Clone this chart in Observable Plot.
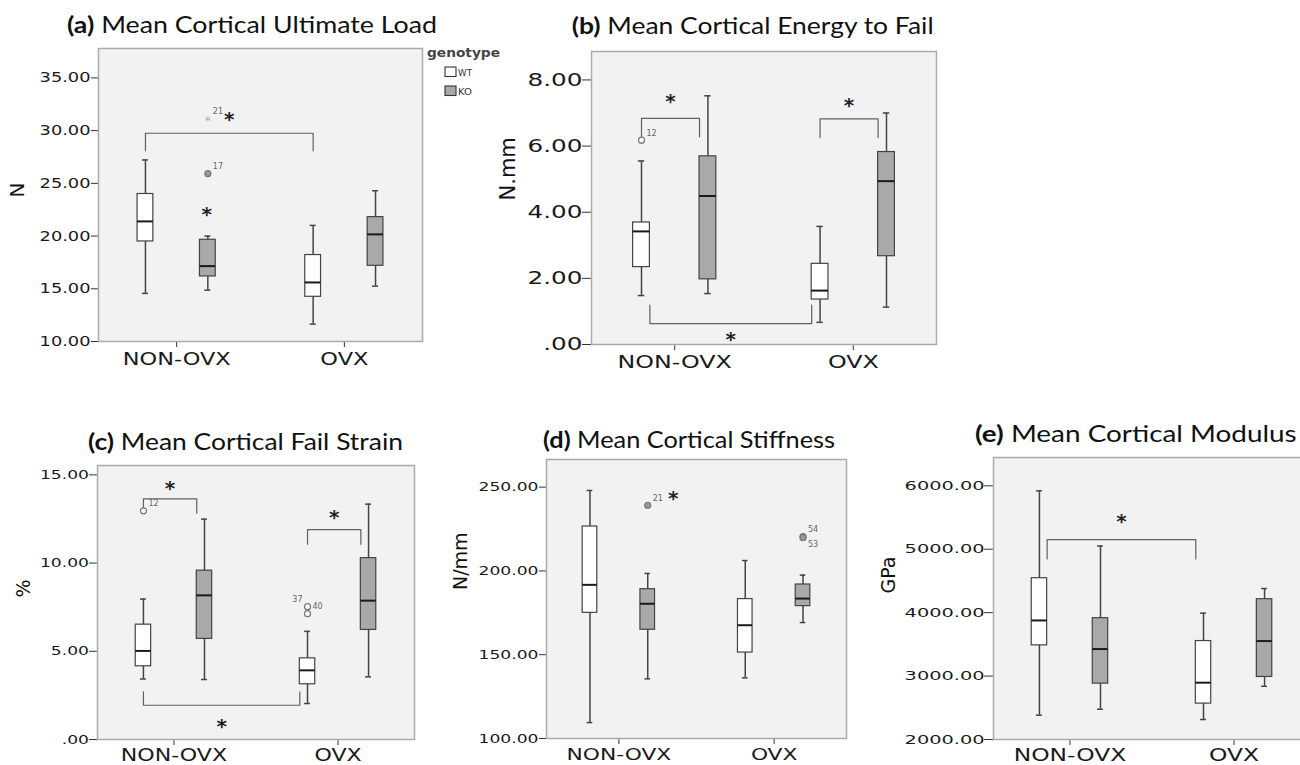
<!DOCTYPE html>
<html>
<head>
<meta charset="utf-8">
<script src="https://cdn.jsdelivr.net/npm/d3@7"></script>
<script src="https://cdn.jsdelivr.net/npm/@observablehq/plot@0.6"></script>
<style>
  html, body { margin: 0; padding: 0; background: #ffffff; }
  body { width: 1300px; height: 765px; overflow: hidden; position: relative; font-family: "DejaVu Sans", sans-serif; }
</style>
</head>
<body>
<script>
// ---------------- DATA ----------------
const groups = ["NON-OVX", "OVX"];
const genotypes = ["WT", "KO"];
// box order: NON-OVX WT, NON-OVX KO, OVX WT, OVX KO
const boxGroup = ["NON-OVX", "NON-OVX", "OVX", "OVX"];
const boxGenotype = ["WT", "KO", "WT", "KO"];

// (a) Ultimate load (N)
const loadLow    = [14.56, 14.87, 11.65, 15.25];
const loadQ1     = [19.49, 16.17, 14.24, 17.18];
const loadMedian = [21.39, 17.15, 15.60, 20.16];
const loadQ3     = [23.99, 19.65, 18.20, 21.80];
const loadHigh   = [27.22, 20.00, 21.01, 24.30];
const loadOutliers = [
  {box: 1, value: 25.92, label: "17", mark: "circle", side: "ne"},
  {box: 1, value: 31.20, label: "21", mark: "star", side: "ne"}
];
const loadBrackets = [{from: [0, "c"], to: [2, "c"], level: 29.75, tip: 28.1, star: 31.5}];
const loadStars = [{x: 0.18, y: 22.47}];
const loadTicks = [10, 15, 20, 25, 30, 35];

// (b) Energy to fail (N.mm)
const energyLow    = [1.48, 1.54, 0.67, 1.13];
const energyQ1     = [2.34, 1.97, 1.36, 2.67];
const energyMedian = [3.42, 4.49, 1.63, 4.94];
const energyQ3     = [3.69, 5.69, 2.44, 5.82];
const energyHigh   = [5.55, 7.52, 3.57, 7.00];
const energyOutliers = [{box: 0, value: 6.18, label: "12", mark: "circle", side: "ne"}];
const energyBrackets = [
  {from: [0, "c"], to: [1, "l"], level: 6.84, tip: 6.28, star: 7.49},
  {from: [2, "c"], to: [3, "l"], level: 6.82, tip: 6.26, star: 7.39},
  {from: [0, "r"], to: [2, "l"], level: 0.63, tip: 1.19, star: 0.30}
];
const energyStars = [];
const energyTicks = [0, 2, 4, 6, 8];

// (c) Fail strain (%)
const strainLow    = [3.43, 3.40, 2.04, 3.55];
const strainQ1     = [4.15, 5.70, 3.13, 6.21];
const strainMedian = [5.02, 8.17, 3.92, 7.87];
const strainQ3     = [6.51, 9.57, 4.60, 10.28];
const strainHigh   = [7.96, 12.49, 6.13, 13.34];
const strainOutliers = [
  {box: 0, value: 12.96, label: "12", mark: "circle", side: "ne"},
  {box: 2, value: 7.53, label: "37", mark: "circle", side: "nw"},
  {box: 2, value: 7.13, label: "40", mark: "circle", side: "ne"}
];
const strainBrackets = [
  {from: [0, "c"], to: [1, "l"], level: 13.64, tip: 12.83, star: 14.53},
  {from: [2, "c"], to: [3, "l"], level: 11.89, tip: 11.06, star: 12.85},
  {from: [0, "c"], to: [2, "l"], level: 1.94, tip: 2.70, star: 1.0}
];
const strainStars = [];
const strainTicks = [0, 5, 10, 15];

// (d) Stiffness (N/mm)
const stiffLow    = [109.5, 135.6, 136.2, 169.2];
const stiffQ1     = [175.0, 164.9, 151.3, 179.0];
const stiffMedian = [191.7, 180.4, 167.6, 183.5];
const stiffQ3     = [226.5, 189.1, 183.2, 191.9];
const stiffHigh   = [248.0, 198.5, 206.2, 197.5];
const stiffOutliers = [
  {box: 1, value: 239.2, label: "21", mark: "circle", side: "ne"},
  {box: 3, value: 220.5, label: "54", mark: "circle", side: "ne"},
  {box: 3, value: 219.8, label: "53", mark: "circle", side: "se"}
];
const stiffBrackets = [];
const stiffStars = [{x: 0.35, y: 246.2}];
const stiffTicks = [100, 150, 200, 250];

// (e) Modulus (GPa)
const modLow    = [2383, 2477, 2315, 2839];
const modQ1     = [3484, 2881, 2566, 2986];
const modMedian = [3877, 3426, 2896, 3552];
const modQ3     = [4543, 3913, 3552, 4212];
const modHigh   = [5921, 5051, 3992, 4380];
const modOutliers = [];
const modBrackets = [{from: [0, "r"], to: [2, "l"], level: 5151, tip: 4847, star: 5512}];
const modStars = [];
const modTicks = [2000, 3000, 4000, 5000, 6000];

const titleLetters = ["(a)", "(b)", "(c)", "(d)", "(e)"];
const titleTexts = [
  "Mean Cortical Ultimate Load",
  "Mean Cortical Energy to Fail",
  "Mean Cortical Fail Strain",
  "Mean Cortical Stiffness",
  "Mean Cortical Modulus"
];
const yLabels = ["N", "N.mm", "%", "N/mm", "GPa"];

// ---------------- LAYOUT / STYLE ----------------
const P = 0.466, OFFSET = 0.186, HALF = 0.047, CAP = 0.018;
const KO_FILL = "#a9a9a9", WT_FILL = "#ffffff", LINE = "#444444";
const fmt = v => v === 0 ? ".00" : v.toFixed(2);

const panels = [
  {stats: [loadLow, loadQ1, loadMedian, loadQ3, loadHigh], outliers: loadOutliers, brackets: loadBrackets, stars: loadStars,
   ticks: loadTicks, domain: [10, 37.79], frame: {l: 98, r: 422, t: 48, b: 341},
   yTick: [7, 1, 14, 1.27], xTick: [5, 17, 1.32], label: [-81, 2.5, 20], title: [67, 33, 370]},
  {stats: [energyLow, energyQ1, energyMedian, energyQ3, energyHigh], outliers: energyOutliers, brackets: energyBrackets, stars: energyStars,
   ticks: energyTicks, domain: [0, 8.86], frame: {l: 591, r: 936, t: 51, b: 344},
   yTick: [9, 0, 18, 1.37], xTick: [4.7, 18, 1.32], label: [-83, 2.5, 21], title: [571.7, 34, 362]},
  {stats: [strainLow, strainQ1, strainMedian, strainQ3, strainHigh], outliers: strainOutliers, brackets: strainBrackets, stars: strainStars,
   ticks: strainTicks, domain: [0, 15.53], frame: {l: 97, r: 414, t: 465, b: 739},
   yTick: [8, 0.5, 13, 1.32], xTick: [3, 17, 1.3], label: [-74, -5, 19], title: [88, 450, 315]},
  {stats: [stiffLow, stiffQ1, stiffMedian, stiffQ3, stiffHigh], outliers: stiffOutliers, brackets: stiffBrackets, stars: stiffStars,
   ticks: stiffTicks, domain: [100, 266.5], frame: {l: 546, r: 846, t: 459, b: 738},
   yTick: [7, 1, 12.5, 1.37], xTick: [4, 16, 1.36], label: [-86, -9, 19], title: [543, 448.3, 292]},
  {stats: [modLow, modQ1, modMedian, modQ3, modHigh], outliers: modOutliers, brackets: modBrackets, stars: modStars,
   ticks: modTicks, domain: [2000, 6446], frame: {l: 993, r: 1310, t: 457, b: 739},
   yTick: [9, 0, 12.8, 1.51], xTick: [3, 18, 1.3], label: [-105, -5, 19], title: [975, 441.7, 321.7]}
];

// ---------------- HELPERS ----------------
const boxX = i => groups.indexOf(boxGroup[i]) + (boxGenotype[i] === "WT" ? -OFFSET : OFFSET);
const anchorX = ([i, side]) => boxX(i) + (side === "l" ? -HALF : side === "r" ? HALF : 0);
const sideOffsets = {ne: [5, -7, "start"], nw: [-5, -7, "end"], se: [5, 7, "start"], e: [5, 0, "start"]};

function stretch(nodes, size, sx) {
  nodes.forEach(t => {
    t.style.fontSize = size + "px";
    t.style.fill = "#1a1a1a";
    const w = t.getComputedTextLength();
    t.setAttribute("textLength", (w * sx).toFixed(2));
    t.setAttribute("lengthAdjust", "spacingAndGlyphs");
  });
}

function drawPanel(p, k) {
  const [low, q1, med, q3, high] = p.stats;
  const rows = boxGroup.map((g, i) => ({
    group: g, genotype: boxGenotype[i], x: boxX(i),
    low: low[i], q1: q1[i], median: med[i], q3: q3[i], high: high[i]
  }));
  const outs = p.outliers.map(o => ({...o, x: boxX(o.box), genotype: boxGenotype[o.box]}));
  const bracketPts = p.brackets.flatMap((b, j) => {
    const x1 = anchorX(b.from), x2 = anchorX(b.to);
    return [
      {id: j, x: x1, y: b.tip}, {id: j, x: x1, y: b.level},
      {id: j, x: x2, y: b.level}, {id: j, x: x2, y: b.tip}
    ];
  });
  const stars = p.stars.concat(p.brackets.map(b => ({x: (anchorX(b.from) + anchorX(b.to)) / 2, y: b.star})));

  const mL = 115, mR = 12, mT = 12, mB = 45;
  const f = p.frame;
  const width = mL + (f.r - f.l) + mR, height = mT + (f.b - f.t) + mB;

  const marks = [
    Plot.frame({fill: "#f2f2f2", stroke: "#ababab", strokeWidth: 1.5}),
    Plot.line(bracketPts, {x: "x", y: "y", z: "id", stroke: "#606060", strokeWidth: 1.2}),
    Plot.ruleX(rows, {x: "x", y1: "low", y2: "high", stroke: LINE, strokeWidth: 1.5}),
    Plot.ruleY(rows, {y: "low", x1: d => d.x - CAP, x2: d => d.x + CAP, stroke: LINE, strokeWidth: 1.5}),
    Plot.ruleY(rows, {y: "high", x1: d => d.x - CAP, x2: d => d.x + CAP, stroke: LINE, strokeWidth: 1.5}),
    Plot.rect(rows.filter(d => d.genotype === "WT"), {x1: d => d.x - HALF, x2: d => d.x + HALF, y1: "q1", y2: "q3", fill: WT_FILL, stroke: LINE, strokeWidth: 1.2}),
    Plot.rect(rows.filter(d => d.genotype === "KO"), {x1: d => d.x - HALF, x2: d => d.x + HALF, y1: "q1", y2: "q3", fill: KO_FILL, stroke: LINE, strokeWidth: 1.2}),
    Plot.ruleY(rows, {y: "median", x1: d => d.x - HALF, x2: d => d.x + HALF, stroke: "#1a1a1a", strokeWidth: 2}),
    Plot.dot(outs.filter(o => o.mark === "circle" && o.genotype === "WT"), {x: "x", y: "value", r: 3, fill: WT_FILL, stroke: "#777", strokeWidth: 1.2}),
    Plot.dot(outs.filter(o => o.mark === "circle" && o.genotype === "KO"), {x: "x", y: "value", r: 3, fill: "#999", stroke: "#777", strokeWidth: 1.2}),
    Plot.text(outs.filter(o => o.mark === "star"), {x: "x", y: "value", text: () => "*", fontSize: 13, fill: "#b0b0b0", dy: 3}),
    ...Object.entries(sideOffsets).map(([side, [dx, dy, anchor]]) =>
      Plot.text(outs.filter(o => o.side === side), {x: "x", y: "value", text: "label", dx, dy, textAnchor: anchor, fontSize: 8, fill: "#666"})),
    Plot.text(stars, {x: "x", y: "y", text: () => "*", fontSize: 20, fontWeight: "bold", fill: "#222", dy: 5}),
    Plot.text([yLabels[k]], {text: d => d, frameAnchor: "left", rotate: -90, dx: p.label[0], dy: p.label[1], fontSize: p.label[2], fill: "#111"})
  ];

  const svg = Plot.plot({
    width, height,
    marginLeft: mL, marginRight: mR, marginTop: mT, marginBottom: mB,
    style: {fontFamily: "DejaVu Sans", color: "#333", background: "transparent", overflow: "visible", maxWidth: "none"},
    x: {domain: [-P, 1 + P], ticks: [0, 1], tickFormat: i => groups[i], tickSize: 6, tickPadding: p.xTick[0], label: null},
    y: {domain: p.domain, ticks: p.ticks, tickFormat: fmt, tickSize: p.yTick[0], tickPadding: p.yTick[1], label: null},
    marks
  });
  svg.style.position = "absolute";
  svg.style.left = (f.l - mL) + "px";
  svg.style.top = (f.t - mT) + "px";
  document.body.appendChild(svg);

  stretch(svg.querySelectorAll('[aria-label^="y-axis"] text'), p.yTick[2], p.yTick[3]);
  stretch(svg.querySelectorAll('[aria-label^="x-axis"] text'), p.xTick[1], p.xTick[2]);
}

panels.forEach(drawPanel);

// ---------------- TITLES & LEGEND ----------------
const overlay = d3.select("body").append("svg")
  .attr("width", 1300).attr("height", 765)
  .style("position", "absolute").style("left", "0px").style("top", "0px")
  .style("pointer-events", "none");

panels.forEach((p, k) => {
  const [x, y, w] = p.title;
  const t = overlay.append("text")
    .attr("x", x).attr("y", y)
    .attr("font-family", "Lato, 'DejaVu Sans', sans-serif")
    .attr("font-size", 23).attr("fill", "#111")
    .attr("textLength", w).attr("lengthAdjust", "spacingAndGlyphs")
    .style("white-space", "pre");
  t.append("tspan").attr("font-weight", "bold").text(titleLetters[k]);
  t.append("tspan").text(" " + titleTexts[k]);
});

const legend = overlay.append("g").attr("font-family", "DejaVu Sans, sans-serif");
legend.append("text").attr("x", 427).attr("y", 56.5).attr("font-size", 11.5).attr("font-weight", "bold")
  .attr("fill", "#444").attr("textLength", 73).attr("lengthAdjust", "spacingAndGlyphs").text("genotype");
genotypes.forEach((g, i) => {
  const y0 = 67 + i * 19;
  legend.append("rect").attr("x", 445).attr("y", y0).attr("width", 11).attr("height", 9.5)
    .attr("fill", g === "WT" ? WT_FILL : KO_FILL).attr("stroke", "#333").attr("stroke-width", 1.1);
  legend.append("text").attr("x", 458).attr("y", y0 + 9).attr("font-size", 9.5).attr("fill", "#333")
    .attr("textLength", 14).attr("lengthAdjust", "spacingAndGlyphs").text(g);
});
</script>
</body>
</html>
